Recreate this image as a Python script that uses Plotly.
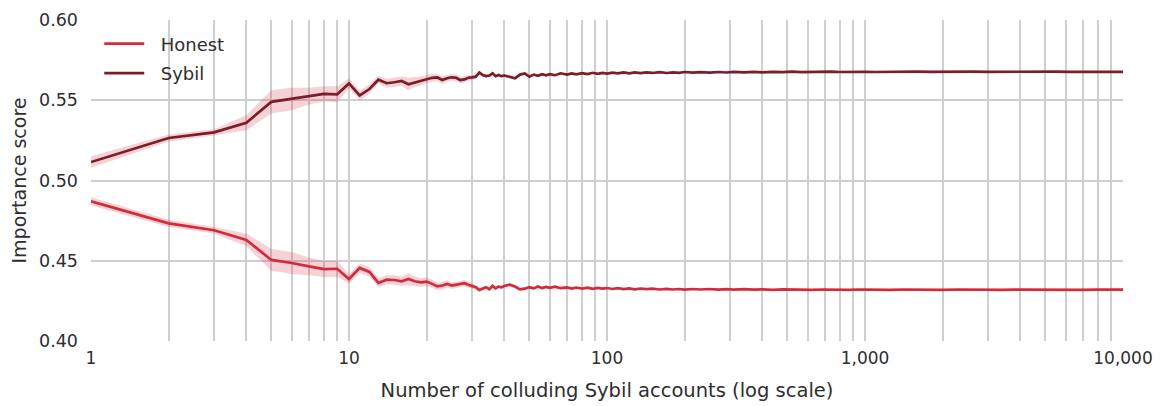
import plotly.graph_objects as go

# ---------------- data ----------------
x_head = list(range(1, 41))
x_tail = [42, 44, 46, 48, 50,
          52, 54, 56, 58, 60,
          63, 66, 70, 73, 76,
          80, 84, 88, 92, 96,
          100, 105, 110, 116, 122,
          128, 135, 142, 150, 160,
          170, 180, 190, 200, 215,
          230, 250, 270, 290, 310,
          340, 370, 400, 440, 480,
          520, 570, 620, 680, 740,
          800, 870, 950, 1000, 1100,
          1250, 1400, 1600, 1800, 2000,
          2300, 2600, 3000, 3400, 3800,
          4300, 4900, 5500, 6200, 7000,
          7900, 8900, 10000]
accounts = x_head + x_tail

sybil = [0.5115, 0.5265, 0.5300, 0.5360, 0.5490,
         0.5508, 0.5526, 0.5540, 0.5537, 0.5605,
         0.5530, 0.5570, 0.5628, 0.5606, 0.5612,
         0.5620, 0.5600, 0.5612, 0.5620, 0.5632,
         0.5640, 0.5642, 0.5626, 0.5637, 0.5643,
         0.5640, 0.5626, 0.5630, 0.5640, 0.5643,
         0.5647, 0.5672, 0.5657, 0.5651, 0.5654,
         0.5668, 0.5650, 0.5657, 0.5650, 0.5654,
         # tail
         0.5647, 0.5637, 0.5660, 0.5667, 0.5647,
         0.5660, 0.5652, 0.5662, 0.5655, 0.5662,
         0.5656, 0.5668, 0.5660, 0.5667, 0.5661,
         0.5669, 0.5663, 0.5671, 0.5664, 0.5670,
         0.5666, 0.5672, 0.5667, 0.5673, 0.5668,
         0.5674, 0.5669, 0.5673, 0.5670, 0.5675,
         0.5670, 0.5674, 0.5671, 0.5676, 0.5672,
         0.5675, 0.5672, 0.5676, 0.5673, 0.5677,
         0.5674, 0.5677, 0.5674, 0.5677, 0.5675,
         0.5678, 0.5675, 0.5677, 0.5675, 0.5678,
         0.5676, 0.5678, 0.5676, 0.5677, 0.5676,
         0.5678, 0.5676, 0.5678, 0.5677, 0.5678,
         0.5676, 0.5678, 0.5677, 0.5678, 0.5676,
         0.5678, 0.5677, 0.5678, 0.5677, 0.5678,
         0.5677, 0.5678, 0.5677]

honest = [0.4870, 0.4733, 0.4690, 0.4630, 0.4505,
          0.4486, 0.4465, 0.4448, 0.4450, 0.4386,
          0.4455, 0.4430, 0.4362, 0.4382, 0.4380,
          0.4372, 0.4386, 0.4372, 0.4365, 0.4370,
          0.4356, 0.4340, 0.4346, 0.4356, 0.4345,
          0.4350, 0.4356, 0.4360, 0.4350, 0.4340,
          0.4335, 0.4318, 0.4328, 0.4335, 0.4322,
          0.4343, 0.4328, 0.4339, 0.4335, 0.4343,
          # tail
          0.4351, 0.4339, 0.4322, 0.4326, 0.4335,
          0.4328, 0.4340, 0.4330, 0.4337, 0.4331,
          0.4338, 0.4329, 0.4334, 0.4327, 0.4333,
          0.4326, 0.4332, 0.4325, 0.4331, 0.4326,
          0.4330, 0.4324, 0.4329, 0.4323, 0.4328,
          0.4322, 0.4327, 0.4323, 0.4326, 0.4321,
          0.4325, 0.4321, 0.4324, 0.4320, 0.4324,
          0.4321, 0.4324, 0.4320, 0.4323, 0.4320,
          0.4323, 0.4320, 0.4322, 0.4319, 0.4322,
          0.4320, 0.4322, 0.4319, 0.4321, 0.4319,
          0.4321, 0.4319, 0.4321, 0.4320, 0.4321,
          0.4319, 0.4321, 0.4319, 0.4320, 0.4319,
          0.4321, 0.4319, 0.4320, 0.4319, 0.4320,
          0.4319, 0.4320, 0.4319, 0.4320, 0.4319,
          0.4320, 0.4319, 0.4320]

sybil_err = [0.0036, 0.0022, 0.0020, 0.0047, 0.0072,
             0.0070, 0.0052, 0.0047, 0.0050, 0.0030,
             0.0030, 0.0028, 0.0025, 0.0028, 0.0030,
             0.0028, 0.0040, 0.0030, 0.0028, 0.0025,
             0.0025, 0.0022, 0.0025, 0.0020, 0.0020,
             0.0022, 0.0018, 0.0020, 0.0018, 0.0015,
             0.0014, 0.0012, 0.0012, 0.0010, 0.0010,
             0.0010, 0.0009, 0.0009, 0.0008, 0.0008,
             # tail
             0.0008, 0.0008, 0.0007, 0.0007, 0.0006,
             0.0006, 0.0006, 0.0005, 0.0005, 0.0005,
             0.0005, 0.0004, 0.0004, 0.0004, 0.0004,
             0.0004, 0.0003, 0.0003, 0.0003, 0.0003,
             0.0003, 0.0003, 0.0003, 0.0003, 0.0002,
             0.0002, 0.0002, 0.0002, 0.0002, 0.0002,
             0.0002, 0.0002, 0.0002, 0.0002, 0.0002,
             0.0002, 0.0001, 0.0001, 0.0001, 0.0001,
             0.0001, 0.0001, 0.0001, 0.0001, 0.0001,
             0.0001, 0.0001, 0.0001, 0.0001, 0.0001,
             0.0001, 0.0001, 0.0001, 0.0001, 0.0001,
             0.0001, 0.0001, 0.0001, 0.0001, 0.0001,
             0.0001, 0.0001, 0.0001, 0.0001, 0.0001,
             0.0001, 0.0001, 0.0001, 0.0001, 0.0001,
             0.0001, 0.0001, 0.0001]

honest_err = [0.0025, 0.0022, 0.0020, 0.0040, 0.0068,
              0.0068, 0.0055, 0.0050, 0.0050, 0.0030,
              0.0030, 0.0030, 0.0028, 0.0028, 0.0030,
              0.0028, 0.0038, 0.0030, 0.0028, 0.0025,
              0.0025, 0.0022, 0.0025, 0.0022, 0.0020,
              0.0022, 0.0018, 0.0020, 0.0018, 0.0015,
              0.0014, 0.0012, 0.0012, 0.0010, 0.0010,
              0.0010, 0.0009, 0.0009, 0.0008, 0.0008,
              # tail
              0.0008, 0.0008, 0.0007, 0.0007, 0.0006,
              0.0006, 0.0006, 0.0005, 0.0005, 0.0005,
              0.0005, 0.0004, 0.0004, 0.0004, 0.0004,
              0.0004, 0.0003, 0.0003, 0.0003, 0.0003,
              0.0003, 0.0003, 0.0003, 0.0003, 0.0002,
              0.0002, 0.0002, 0.0002, 0.0002, 0.0002,
              0.0002, 0.0002, 0.0002, 0.0002, 0.0002,
              0.0002, 0.0001, 0.0001, 0.0001, 0.0001,
              0.0001, 0.0001, 0.0001, 0.0001, 0.0001,
              0.0001, 0.0001, 0.0001, 0.0001, 0.0001,
              0.0001, 0.0001, 0.0001, 0.0001, 0.0001,
              0.0001, 0.0001, 0.0001, 0.0001, 0.0001,
              0.0001, 0.0001, 0.0001, 0.0001, 0.0001,
              0.0001, 0.0001, 0.0001, 0.0001, 0.0001,
              0.0001, 0.0001, 0.0001]

series_names = ["Honest", "Sybil"]
x_major = [1, 10, 100, 1000, 10000]
x_major_labels = ["1", "10", "100", "1,000", "10,000"]
y_ticks = [0.40, 0.45, 0.50, 0.55, 0.60]
y_grid = [0.40, 0.45, 0.50, 0.55]

assert len(accounts) == len(sybil) == len(honest) == len(sybil_err) == len(honest_err)

# ---------------- style ----------------
HONEST_C = "#d42a3b"
SYBIL_C = "#7c1d28"
BAND_C = "rgba(214,40,57,0.21)"
GRID_C = "#cfcfcf"
FONT = "DejaVu Sans"
TXT = "#2e2e2e"

x_minor = sorted({m * d for d in [1, 10, 100, 1000] for m in range(1, 10)} | {10000})

fig = go.Figure()

for vals, errs in [(honest, honest_err), (sybil, sybil_err)]:
    upper = [v + e for v, e in zip(vals, errs)]
    lower = [v - e for v, e in zip(vals, errs)]
    fig.add_trace(go.Scatter(x=accounts, y=upper, mode="lines",
                             line=dict(width=0), showlegend=False, hoverinfo="skip"))
    fig.add_trace(go.Scatter(x=accounts, y=lower, mode="lines",
                             line=dict(width=0), fill="tonexty", fillcolor=BAND_C,
                             showlegend=False, hoverinfo="skip"))

for name, vals, color in [(series_names[0], honest, HONEST_C),
                          (series_names[1], sybil, SYBIL_C)]:
    fig.add_trace(go.Scatter(x=accounts, y=vals, mode="lines", name="  " + name,
                             legendgroup=name,
                             line=dict(color=color, width=2.7)))

# the page body has an 8px margin, so the figure is 8px smaller on each axis
fig.update_layout(
    width=1156, height=398,
    margin=dict(l=83, r=41, t=12, b=65, autoexpand=False),
    paper_bgcolor="white", plot_bgcolor="white",
    font=dict(family=FONT, size=17, color=TXT),
    legend=dict(x=0.008, y=0.983, xanchor="left", yanchor="top",
                traceorder="grouped",
                bgcolor="rgba(0,0,0,0)", font=dict(size=18, color=TXT),
                tracegroupgap=3, itemwidth=40),
    showlegend=True,
)

fig.update_xaxes(
    type="log", range=[0, 4], automargin=False,
    tickmode="array", tickvals=x_major, ticktext=x_major_labels,
    showgrid=False, zeroline=False, showline=False,
    ticks="", ticklabelstandoff=5,
    tickfont=dict(size=17, color=TXT),
    minor=dict(tickmode="array", tickvals=x_minor, showgrid=True,
               gridcolor=GRID_C, gridwidth=1.5, ticks=""),
    title=dict(text="Number of colluding Sybil accounts (log scale)",
               font=dict(size=19.5, color=TXT), standoff=16),
)

fig.update_yaxes(
    range=[0.40, 0.60], automargin=False,
    tickmode="array", tickvals=y_ticks, ticktext=[f"{v:.2f}" for v in y_ticks],
    showgrid=False, zeroline=False, showline=False,
    ticks="", ticklabelstandoff=12,
    tickfont=dict(size=17.5, color=TXT),
    minor=dict(tickmode="array", tickvals=y_grid, showgrid=True,
               gridcolor=GRID_C, gridwidth=1.5, ticks=""),
    title=dict(text="Importance score", font=dict(size=19, color=TXT), standoff=12),
)

fig.write_html("out.html")
